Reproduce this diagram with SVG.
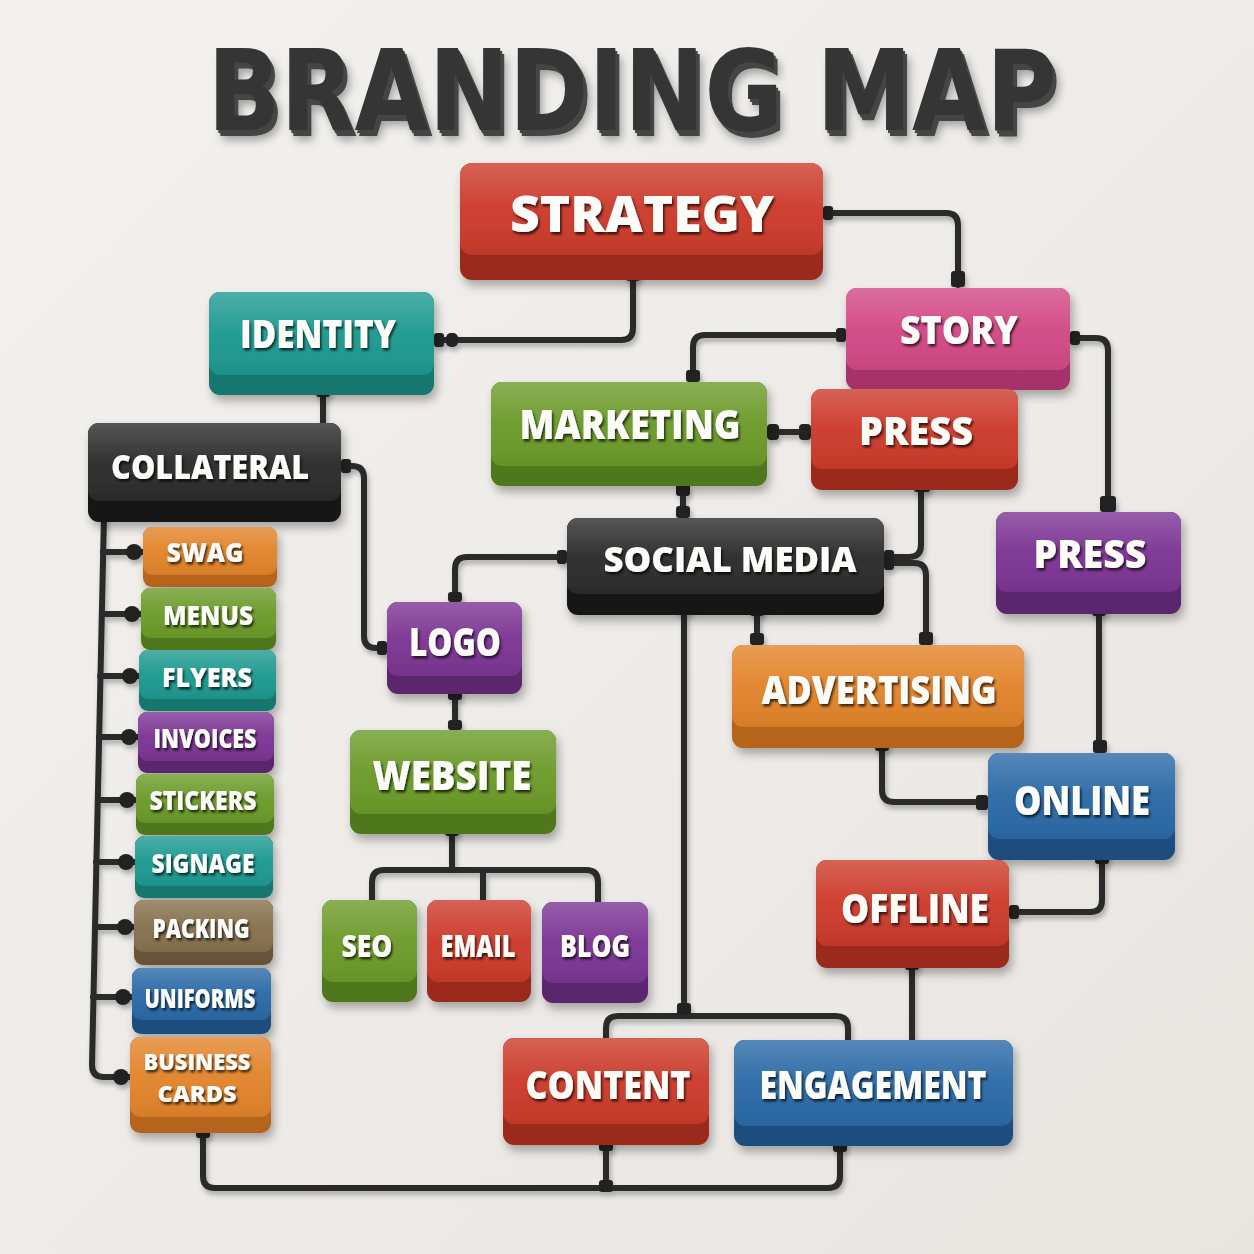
<svg xmlns="http://www.w3.org/2000/svg" width="1254" height="1254" viewBox="0 0 1254 1254">
<defs>
<linearGradient id="bg" x1="0" y1="0" x2="1" y2="1"><stop offset="0" stop-color="#f3f1ee"/><stop offset="1" stop-color="#e9e6e2"/></linearGradient>
<linearGradient id="gloss" x1="0" y1="0" x2="0" y2="1"><stop offset="0" stop-color="#fff" stop-opacity="0.2"/><stop offset="0.5" stop-color="#fff" stop-opacity="0.03"/><stop offset="1" stop-color="#000" stop-opacity="0.06"/></linearGradient>
<filter id="nshadow" x="-10%" y="-10%" width="130%" height="140%"><feDropShadow dx="3" dy="6" stdDeviation="5" flood-color="#000" flood-opacity="0.3"/></filter>
<filter id="tshadow" x="-10%" y="-20%" width="120%" height="150%"><feDropShadow dx="1.5" dy="2.5" stdDeviation="1.2" flood-color="#000" flood-opacity="0.7"/></filter>
<filter id="pshadow" x="-5%" y="-5%" width="110%" height="110%"><feDropShadow dx="2" dy="4" stdDeviation="2.5" flood-color="#000" flood-opacity="0.28"/></filter>
<filter id="extrude" x="-5%" y="-20%" width="110%" height="150%">
<feOffset in="SourceAlpha" dx="2" dy="3" result="o1"/>
<feOffset in="SourceAlpha" dx="4" dy="6" result="o2"/>
<feMerge result="ex"><feMergeNode in="o1"/><feMergeNode in="o2"/></feMerge>
<feColorMatrix in="ex" type="matrix" values="0 0 0 0 0.06 0 0 0 0 0.06 0 0 0 0 0.06 0 0 0 1 0" result="exc"/>
<feGaussianBlur in="SourceAlpha" stdDeviation="5" result="bl"/>
<feOffset in="bl" dx="6" dy="10" result="sh"/>
<feColorMatrix in="sh" type="matrix" values="0 0 0 0 0 0 0 0 0 0 0 0 0 0 0 0 0 0 0.35 0" result="shc"/>
<feMerge><feMergeNode in="shc"/><feMergeNode in="exc"/><feMergeNode in="SourceGraphic"/></feMerge>
</filter>
<style>
.node{filter:url(#nshadow)}
.node text{font-family:"Open Sans","Liberation Sans",sans-serif;font-weight:800;fill:#fbfbf8;text-anchor:middle;filter:url(#tshadow)}
.gl{fill:url(#gloss)}
.red .top{fill:#cc3b2b}.red .base{fill:#9c2a1f}
.teal .top{fill:#1e9a91}.teal .base{fill:#14766f}
.pink .top{fill:#d24a86}.pink .base{fill:#a5336a}
.green .top{fill:#6c9b2a}.green .base{fill:#4f771b}
.black .top{fill:#2c2c2c}.black .base{fill:#171717}
.purple .top{fill:#7c3594}.purple .base{fill:#5a256d}
.orange .top{fill:#e2842b}.orange .base{fill:#b6641c}
.blue .top{fill:#2b6aa7}.blue .base{fill:#1c4d7e}
.brown .top{fill:#87714f}.brown .base{fill:#665338}
.pipe{fill:none;stroke:#2a2a2a;stroke-width:6;stroke-linecap:round;stroke-linejoin:round}
.knob{fill:#232323}
#connectors{filter:url(#pshadow)}
.title{font-family:"DejaVu Sans","Liberation Sans",sans-serif;font-weight:900;font-size:112px;text-anchor:middle;fill:#343434;filter:url(#extrude)}
</style>
</defs>
<rect width="1254" height="1254" fill="url(#bg)"/>

<g id="title">
<text class="title" x="632" y="130" textLength="849" lengthAdjust="spacingAndGlyphs">BRANDING MAP</text>
</g>

<g id="connectors">
<path class="pipe" d="M823,213 H946 Q958,213 958,225 V285"/>
<path class="pipe" d="M633,272 V328 Q633,340 621,340 H434"/>
<path class="pipe" d="M846,335 H705 Q693,335 693,347 V382"/>
<path class="pipe" d="M1070,338 H1096 Q1108,338 1108,350 V512"/>
<path class="pipe" d="M767,432 H811"/>
<path class="pipe" d="M683,486 V518"/>
<path class="pipe" d="M921,490 V545 Q921,557 909,557 H884"/>
<path class="pipe" d="M884,563 H914 Q926,563 926,575 V645"/>
<path class="pipe" d="M567,557 H467 Q455,557 455,569 V602"/>
<path class="pipe" d="M757,612 V645"/>
<path class="pipe" d="M684,608 V1016"/>
<path class="pipe" d="M606,1038 V1028 Q606,1016 618,1016 H836 Q848,1016 848,1028 V1040"/>
<path class="pipe" d="M323,395 V423"/>
<path class="pipe" d="M341,466 H352 Q364,466 364,478 V636 Q364,648 376,648 H387"/>
<path class="pipe" d="M455,694 V730"/>
<path class="pipe" d="M452,834 V870"/>
<path class="pipe" d="M372,900 V882 Q372,870 384,870 H586 Q598,870 598,882 V902"/>
<path class="pipe" d="M483,870 V900"/>
<path class="pipe" d="M1099,614 V753"/>
<path class="pipe" d="M882,748 V790 Q882,802 894,802 H988"/>
<path class="pipe" d="M1102,860 V900 Q1102,912 1090,912 H1009"/>
<path class="pipe" d="M912,968 V1040"/>
<path class="pipe" d="M104,515 L92,1065 Q92,1077 104,1077 H130"/>
<path class="pipe" d="M103,552 H143 M102,614 H141 M100,676 H139 M99,737 H138 M98,800 H136 M96,862 H135 M95,927 H134 M93,997 H132"/>
<path class="pipe" d="M203,1133 V1176 Q203,1188 215,1188 H828 Q840,1188 840,1176 V1146"/>
<path class="pipe" d="M606,1145 V1188"/>
<g class="knob">
<circle cx="134" cy="552" r="8"/><circle cx="132" cy="614" r="8"/><circle cx="130" cy="676" r="8"/><circle cx="129" cy="737" r="8"/><circle cx="127" cy="800" r="8"/><circle cx="126" cy="862" r="8"/><circle cx="125" cy="927" r="8"/><circle cx="123" cy="997" r="8"/><circle cx="121" cy="1077" r="8"/>
<rect x="823" y="206" width="10" height="14" rx="3"/>
<rect x="951" y="271" width="14" height="16" rx="3"/>
<rect x="626" y="265" width="14" height="16" rx="3"/>
<rect x="434" y="333" width="10" height="14" rx="3"/>
<rect x="446" y="333" width="12" height="14" rx="5"/>
<rect x="836" y="328" width="10" height="14" rx="3"/>
<rect x="686" y="370" width="14" height="12" rx="3"/>
<rect x="1070" y="331" width="10" height="14" rx="3"/>
<rect x="1100" y="496" width="16" height="16" rx="3"/>
<rect x="767" y="424" width="12" height="16" rx="4"/>
<rect x="799" y="424" width="12" height="16" rx="4"/>
<rect x="676" y="484" width="14" height="12" rx="3"/>
<rect x="676" y="506" width="14" height="12" rx="3"/>
<rect x="914" y="478" width="16" height="14" rx="3"/>
<rect x="884" y="550" width="10" height="20" rx="3"/>
<rect x="919" y="632" width="14" height="13" rx="3"/>
<rect x="557" y="550" width="10" height="14" rx="3"/>
<rect x="448" y="592" width="14" height="10" rx="3"/>
<rect x="750" y="604" width="14" height="12" rx="3"/>
<rect x="750" y="633" width="14" height="12" rx="3"/>
<rect x="677" y="600" width="14" height="14" rx="3"/>
<rect x="677" y="1003" width="14" height="12" rx="3"/>
<rect x="316" y="383" width="14" height="14" rx="3"/>
<rect x="341" y="459" width="10" height="14" rx="3"/>
<rect x="377" y="641" width="10" height="14" rx="3"/>
<rect x="448" y="690" width="14" height="10" rx="3"/>
<rect x="448" y="720" width="14" height="10" rx="3"/>
<rect x="445" y="824" width="14" height="12" rx="3"/>
<rect x="1092" y="604" width="14" height="12" rx="3"/>
<rect x="1093" y="740" width="14" height="13" rx="3"/>
<rect x="875" y="737" width="14" height="14" rx="3"/>
<rect x="976" y="795" width="12" height="15" rx="3"/>
<rect x="1095" y="852" width="14" height="12" rx="3"/>
<rect x="1009" y="905" width="10" height="14" rx="3"/>
<rect x="905" y="958" width="14" height="12" rx="3"/>
<rect x="196" y="1126" width="14" height="12" rx="3"/>
<rect x="599" y="1137" width="14" height="14" rx="3"/>
<rect x="599" y="1180" width="14" height="12" rx="3"/>
<rect x="833" y="1138" width="14" height="14" rx="3"/>
</g>
</g>

<g id="strategy" class="node red" transform="translate(460,163)"><rect class="base" width="363" height="117" rx="12"/><rect class="top" width="363" height="92" rx="12"/><rect class="gl" width="363" height="92" rx="12"/><text x="182" y="69" font-size="50" textLength="264" lengthAdjust="spacingAndGlyphs">STRATEGY</text></g>
<g id="identity" class="node teal" transform="translate(209,292)"><rect class="base" width="225" height="103" rx="11"/><rect class="top" width="225" height="83" rx="11"/><rect class="gl" width="225" height="83" rx="11"/><text x="109" y="56" font-size="38" textLength="156" lengthAdjust="spacingAndGlyphs">IDENTITY</text></g>
<g id="story" class="node pink" transform="translate(846,288)"><rect class="base" width="224" height="102" rx="11"/><rect class="top" width="224" height="82" rx="11"/><rect class="gl" width="224" height="82" rx="11"/><text x="113" y="56" font-size="38" textLength="118" lengthAdjust="spacingAndGlyphs">STORY</text></g>
<g id="marketing" class="node green" transform="translate(491,382)"><rect class="base" width="276" height="104" rx="11"/><rect class="top" width="276" height="84" rx="11"/><rect class="gl" width="276" height="84" rx="11"/><text x="139" y="57" font-size="40" textLength="221" lengthAdjust="spacingAndGlyphs">MARKETING</text></g>
<g id="press-red" class="node red" transform="translate(811,389)"><rect class="base" width="207" height="101" rx="11"/><rect class="top" width="207" height="80" rx="11"/><rect class="gl" width="207" height="80" rx="11"/><text x="105" y="56" font-size="38" textLength="114" lengthAdjust="spacingAndGlyphs">PRESS</text></g>
<g id="collateral" class="node black" transform="translate(88,423)"><rect class="base" width="253" height="99" rx="11"/><rect class="top" width="253" height="78" rx="11"/><rect class="gl" width="253" height="78" rx="11"/><text x="122" y="56" font-size="34" textLength="198" lengthAdjust="spacingAndGlyphs">COLLATERAL</text></g>
<g id="social-media" class="node black" transform="translate(567,518)"><rect class="base" width="317" height="97" rx="11"/><rect class="top" width="317" height="76" rx="11"/><rect class="gl" width="317" height="76" rx="11"/><text x="163" y="54" font-size="36" textLength="253" lengthAdjust="spacingAndGlyphs">SOCIAL MEDIA</text></g>
<g id="press-purple" class="node purple" transform="translate(996,512)"><rect class="base" width="185" height="102" rx="11"/><rect class="top" width="185" height="80" rx="11"/><rect class="gl" width="185" height="80" rx="11"/><text x="94" y="56" font-size="38" textLength="113" lengthAdjust="spacingAndGlyphs">PRESS</text></g>
<g id="logo" class="node purple" transform="translate(387,602)"><rect class="base" width="135" height="92" rx="11"/><rect class="top" width="135" height="74" rx="11"/><rect class="gl" width="135" height="74" rx="11"/><text x="68" y="54" font-size="38" textLength="92" lengthAdjust="spacingAndGlyphs">LOGO</text></g>
<g id="advertising" class="node orange" transform="translate(732,645)"><rect class="base" width="292" height="103" rx="11"/><rect class="top" width="292" height="82" rx="11"/><rect class="gl" width="292" height="82" rx="11"/><text x="147" y="59" font-size="38" textLength="235" lengthAdjust="spacingAndGlyphs">ADVERTISING</text></g>
<g id="website" class="node green" transform="translate(350,730)"><rect class="base" width="206" height="104" rx="11"/><rect class="top" width="206" height="84" rx="11"/><rect class="gl" width="206" height="84" rx="11"/><text x="102" y="60" font-size="40" textLength="159" lengthAdjust="spacingAndGlyphs">WEBSITE</text></g>
<g id="online" class="node blue" transform="translate(988,753)"><rect class="base" width="187" height="107" rx="11"/><rect class="top" width="187" height="86" rx="11"/><rect class="gl" width="187" height="86" rx="11"/><text x="94" y="62" font-size="40" textLength="136" lengthAdjust="spacingAndGlyphs">ONLINE</text></g>
<g id="offline" class="node red" transform="translate(816,860)"><rect class="base" width="193" height="108" rx="11"/><rect class="top" width="193" height="86" rx="11"/><rect class="gl" width="193" height="86" rx="11"/><text x="99" y="63" font-size="40" textLength="148" lengthAdjust="spacingAndGlyphs">OFFLINE</text></g>
<g id="seo" class="node green" transform="translate(322,900)"><rect class="base" width="95" height="102" rx="11"/><rect class="top" width="95" height="82" rx="11"/><rect class="gl" width="95" height="82" rx="11"/><text x="45" y="57" font-size="30" textLength="51" lengthAdjust="spacingAndGlyphs">SEO</text></g>
<g id="email" class="node red" transform="translate(427,900)"><rect class="base" width="104" height="102" rx="11"/><rect class="top" width="104" height="82" rx="11"/><rect class="gl" width="104" height="82" rx="11"/><text x="51" y="57" font-size="30" textLength="75" lengthAdjust="spacingAndGlyphs">EMAIL</text></g>
<g id="blog" class="node purple" transform="translate(542,902)"><rect class="base" width="106" height="101" rx="11"/><rect class="top" width="106" height="81" rx="11"/><rect class="gl" width="106" height="81" rx="11"/><text x="53" y="55" font-size="30" textLength="70" lengthAdjust="spacingAndGlyphs">BLOG</text></g>
<g id="content" class="node red" transform="translate(503,1038)"><rect class="base" width="206" height="107" rx="11"/><rect class="top" width="206" height="86" rx="11"/><rect class="gl" width="206" height="86" rx="11"/><text x="105" y="61" font-size="38" textLength="165" lengthAdjust="spacingAndGlyphs">CONTENT</text></g>
<g id="engagement" class="node blue" transform="translate(734,1040)"><rect class="base" width="279" height="106" rx="11"/><rect class="top" width="279" height="86" rx="11"/><rect class="gl" width="279" height="86" rx="11"/><text x="139" y="59" font-size="38" textLength="227" lengthAdjust="spacingAndGlyphs">ENGAGEMENT</text></g>

<g id="swag" class="node orange" transform="translate(143,527)"><rect class="base" width="134" height="60" rx="9"/><rect class="top" width="134" height="48" rx="9"/><rect class="gl" width="134" height="48" rx="9"/><text x="62" y="35" font-size="26" textLength="77" lengthAdjust="spacingAndGlyphs">SWAG</text></g>
<g id="menus" class="node green" transform="translate(141,588)"><rect class="base" width="135" height="62" rx="9"/><rect class="top" width="135" height="50" rx="9"/><rect class="gl" width="135" height="50" rx="9"/><text x="67" y="37" font-size="26" textLength="90" lengthAdjust="spacingAndGlyphs">MENUS</text></g>
<g id="flyers" class="node teal" transform="translate(139,650)"><rect class="base" width="137" height="61" rx="9"/><rect class="top" width="137" height="49" rx="9"/><rect class="gl" width="137" height="49" rx="9"/><text x="68" y="37" font-size="26" textLength="90" lengthAdjust="spacingAndGlyphs">FLYERS</text></g>
<g id="invoices" class="node purple" transform="translate(138,712)"><rect class="base" width="136" height="61" rx="9"/><rect class="top" width="136" height="49" rx="9"/><rect class="gl" width="136" height="49" rx="9"/><text x="67" y="36" font-size="26" textLength="103" lengthAdjust="spacingAndGlyphs">INVOICES</text></g>
<g id="stickers" class="node green" transform="translate(136,774)"><rect class="base" width="138" height="61" rx="9"/><rect class="top" width="138" height="49" rx="9"/><rect class="gl" width="138" height="49" rx="9"/><text x="67" y="36" font-size="26" textLength="107" lengthAdjust="spacingAndGlyphs">STICKERS</text></g>
<g id="signage" class="node teal" transform="translate(135,836)"><rect class="base" width="138" height="62" rx="9"/><rect class="top" width="138" height="50" rx="9"/><rect class="gl" width="138" height="50" rx="9"/><text x="68" y="37" font-size="26" textLength="103" lengthAdjust="spacingAndGlyphs">SIGNAGE</text></g>
<g id="packing" class="node brown" transform="translate(134,900)"><rect class="base" width="139" height="65" rx="9"/><rect class="top" width="139" height="52" rx="9"/><rect class="gl" width="139" height="52" rx="9"/><text x="67" y="38" font-size="26" textLength="97" lengthAdjust="spacingAndGlyphs">PACKING</text></g>
<g id="uniforms" class="node blue" transform="translate(132,968)"><rect class="base" width="139" height="66" rx="9"/><rect class="top" width="139" height="52" rx="9"/><rect class="gl" width="139" height="52" rx="9"/><text x="68" y="40" font-size="26" textLength="111" lengthAdjust="spacingAndGlyphs">UNIFORMS</text></g>
<g id="business-cards" class="node orange" transform="translate(130,1037)"><rect class="base" width="141" height="96" rx="10"/><rect class="top" width="141" height="80" rx="10"/><rect class="gl" width="141" height="80" rx="10"/><text x="67" y="33" font-size="23" textLength="107" lengthAdjust="spacingAndGlyphs">BUSINESS</text><text x="67" y="65" font-size="23" textLength="79" lengthAdjust="spacingAndGlyphs">CARDS</text></g>
</svg>
